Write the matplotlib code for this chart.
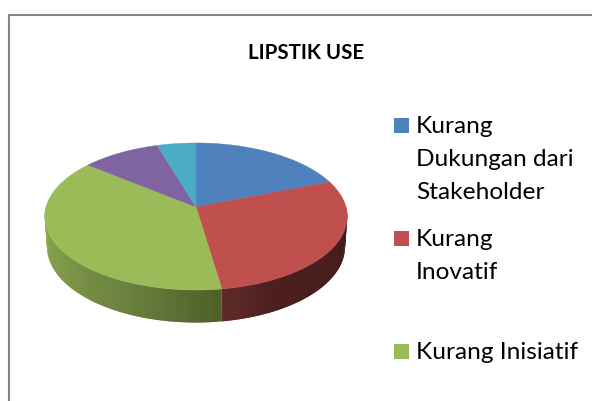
import numpy as np
import matplotlib
matplotlib.use('Agg')
import matplotlib.pyplot as plt
from matplotlib.colors import LinearSegmentedColormap
from matplotlib.patches import Rectangle

plt.rcParams['font.family'] = ['Lato', 'DejaVu Sans']

title = 'LIPSTIK USE'
legend_labels = ['Kurang\nDukungan dari\nStakeholder', 'Kurang\nInovatif', 'Kurang Inisiatif']
values = [19.1, 28.5, 38.2, 9.5, 4.7]
colors = ['#4f81bd', '#c0504d', '#9bbb59', '#8064a2', '#4bacc6']

# side wall shading, left to right
green_wall = LinearSegmentedColormap.from_list('g', ['#8fab52', '#7f9a49', '#6b8240', '#4f6029'])
red_wall = LinearSegmentedColormap.from_list('r', ['#602b29', '#4c1f1e', '#4a1e1e', '#451c1c', '#3e1919'])

# pixel geometry of the tilted pie
cx, cy = 196.0, 207.0
sx, sy, k = 150.0, 72.3, 0.129
depth, wall_sx, wall_sy = 30.0, 0.985, 1.03


def rim(frac, drop=0.0, xs=1.0, ys=1.0):
    # frac is the share of the circle, clockwise from 12 o'clock
    a = 2 * np.pi * np.asarray(frac)
    x, y = np.sin(a), np.cos(a)
    w = 1 + k * y
    return cx + xs * sx * x / w, cy + drop - ys * sy * y / w


fig = plt.figure(figsize=(5.92, 4.01), dpi=100)
ax = fig.add_axes([0, 0, 1, 1])
ax.set_xlim(0, 592)
ax.set_ylim(401, 0)
ax.axis('off')

# frame, only top and left are in the picture
ax.plot([9, 9, 592], [401, 15, 15], color='#868686', lw=1.5, solid_joinstyle='miter')

cum = np.cumsum(values) / np.sum(values)
starts = np.concatenate(([0], cum[:-1]))

# side wall: red part then green part
for s, e, cmap in [(0.25, cum[1], red_wall), (cum[1], 0.75, green_wall)]:
    edges = np.linspace(s, e, 60)
    for i in range(len(edges) - 1):
        # strips overlap the next one so no seams show
        f = np.linspace(edges[i], min(edges[i + 1] + 0.004, e), 4)
        x1, y1 = rim(f)
        x2, y2 = rim(f, depth, wall_sx, wall_sy)
        pos = abs(edges[i] - cum[1]) / abs(e - s)
        if cmap is green_wall:
            pos = 1 - pos
        ax.fill(np.r_[x1, x2[::-1]], np.r_[y1, y2[::-1]], color=cmap(pos), lw=0, zorder=2)

# top face
for s, e, c in zip(starts, cum, colors):
    f = np.linspace(s, e, 120)
    x, y = rim(f)
    ax.fill(np.r_[cx, x], np.r_[cy, y], color=c, lw=0.3, zorder=3)

ax.text(306, 53, title, ha='center', va='center', fontsize=14.8, fontweight='bold', color='black')

# legend
leg_y = [118, 231, 344]
for lab, c, y in zip(legend_labels, colors, leg_y):
    ax.add_patch(Rectangle((394, y), 15, 15, facecolor=c, edgecolor='none'))
    for i, line in enumerate(lab.split('\n')):
        ax.text(416, y + 15 + i * 33, line, ha='left', va='baseline', fontsize=17.6, color='black')

fig.savefig('out.png', dpi=100)
